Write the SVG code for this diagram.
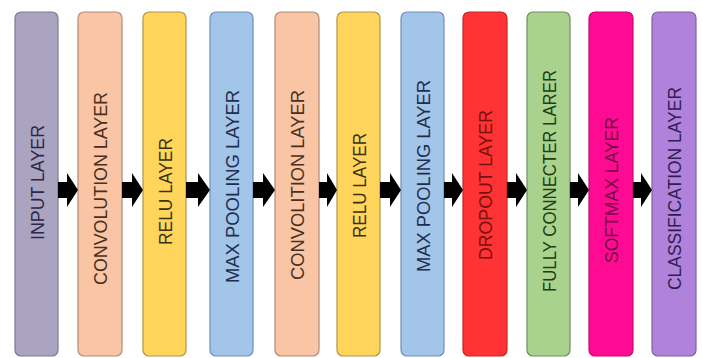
<svg xmlns="http://www.w3.org/2000/svg" width="702" height="358" viewBox="0 0 702 358">
<style>
.box{stroke-width:1.2}
.lbl{font-family:"Liberation Sans","Arial",sans-serif;font-size:19px;text-anchor:middle;dominant-baseline:central}
.input rect{fill:#aaa4c0;stroke:#7e7892}
.input text{fill:#2b2848}
.conv rect{fill:#f9c5a5;stroke:#b08b76}
.conv text{fill:#4a3020}
.relu rect{fill:#ffd55c;stroke:#b39448}
.relu text{fill:#3b3010}
.pool rect{fill:#a3c5e9;stroke:#6f8fb3}
.pool text{fill:#1e2e4c}
.drop rect{fill:#ff3333;stroke:#c42626}
.drop text{fill:#7a1010}
.fc rect{fill:#aad28f;stroke:#6f8e5c}
.fc text{fill:#203e12}
.soft rect{fill:#ff0a92;stroke:#c20a70}
.soft text{fill:#72073f}
.cls rect{fill:#b182dc;stroke:#80619e}
.cls text{fill:#2e1e52}
.arrow{fill:#000}
</style>
<rect width="702" height="358" fill="#fff"/>
<g id="n1" class="input"><rect class="box" x="15" y="12" width="43" height="344" rx="6"/><text class="lbl" transform="translate(37,182.5) rotate(-90)" textLength="115" lengthAdjust="spacingAndGlyphs">INPUT LAYER</text></g>
<g id="n2" class="conv"><rect class="box" x="78" y="12" width="44" height="344" rx="6"/><text class="lbl" transform="translate(100.5,188.5) rotate(-90)" textLength="193" lengthAdjust="spacingAndGlyphs">CONVOLUTION LAYER</text></g>
<g id="n3" class="relu"><rect class="box" x="143" y="12" width="43" height="344" rx="6"/><text class="lbl" transform="translate(165,191.5) rotate(-90)" textLength="107" lengthAdjust="spacingAndGlyphs">RELU LAYER</text></g>
<g id="n4" class="pool"><rect class="box" x="210" y="12" width="43" height="344" rx="6"/><text class="lbl" transform="translate(232,186.5) rotate(-90)" textLength="193" lengthAdjust="spacingAndGlyphs">MAX POOLING LAYER</text></g>
<g id="n5" class="conv"><rect class="box" x="275" y="12" width="44" height="344" rx="6"/><text class="lbl" transform="translate(297.5,185) rotate(-90)" textLength="190" lengthAdjust="spacingAndGlyphs">CONVOLITION LAYER</text></g>
<g id="n6" class="relu"><rect class="box" x="337" y="12" width="43" height="344" rx="6"/><text class="lbl" transform="translate(359,185.5) rotate(-90)" textLength="105" lengthAdjust="spacingAndGlyphs">RELU LAYER</text></g>
<g id="n7" class="pool"><rect class="box" x="401" y="12" width="43" height="344" rx="6"/><text class="lbl" transform="translate(423,176) rotate(-90)" textLength="192" lengthAdjust="spacingAndGlyphs">MAX POOLING LAYER</text></g>
<g id="n8" class="drop"><rect class="box" x="463" y="12" width="44" height="344" rx="6"/><text class="lbl" transform="translate(485.5,185) rotate(-90)" textLength="150" lengthAdjust="spacingAndGlyphs">DROPOUT LAYER</text></g>
<g id="n9" class="fc"><rect class="box" x="527" y="12" width="43" height="344" rx="6"/><text class="lbl" transform="translate(549,181) rotate(-90)" textLength="222" lengthAdjust="spacingAndGlyphs">FULLY CONNECTER LARER</text></g>
<g id="n10" class="soft"><rect class="box" x="589" y="12" width="44" height="344" rx="6"/><text class="lbl" transform="translate(611.5,190) rotate(-90)" textLength="146" lengthAdjust="spacingAndGlyphs">SOFTMAX LAYER</text></g>
<g id="n11" class="cls"><rect class="box" x="652" y="12" width="44" height="344" rx="6"/><text class="lbl" transform="translate(674.5,188.5) rotate(-90)" textLength="203" lengthAdjust="spacingAndGlyphs">CLASSIFICATION LAYER</text></g>
<g id="connectors" class="arrow">
<path d="M58,182H67V173L78,190L67,207V198H58Z"/>
<path d="M122,182H132V173L143,190L132,207V198H122Z"/>
<path d="M186,182H198V173L210,190L198,207V198H186Z"/>
<path d="M253,182H263V173L275,190L263,207V198H253Z"/>
<path d="M319,182H327V173L337,190L327,207V198H319Z"/>
<path d="M380,182H390V173L401,190L390,207V198H380Z"/>
<path d="M444,182H452V173L463,190L452,207V198H444Z"/>
<path d="M507,182H516V173L527,190L516,207V198H507Z"/>
<path d="M570,182H578V173L589,190L578,207V198H570Z"/>
<path d="M633,182H641V173L652,190L641,207V198H633Z"/>
</g>
</svg>
